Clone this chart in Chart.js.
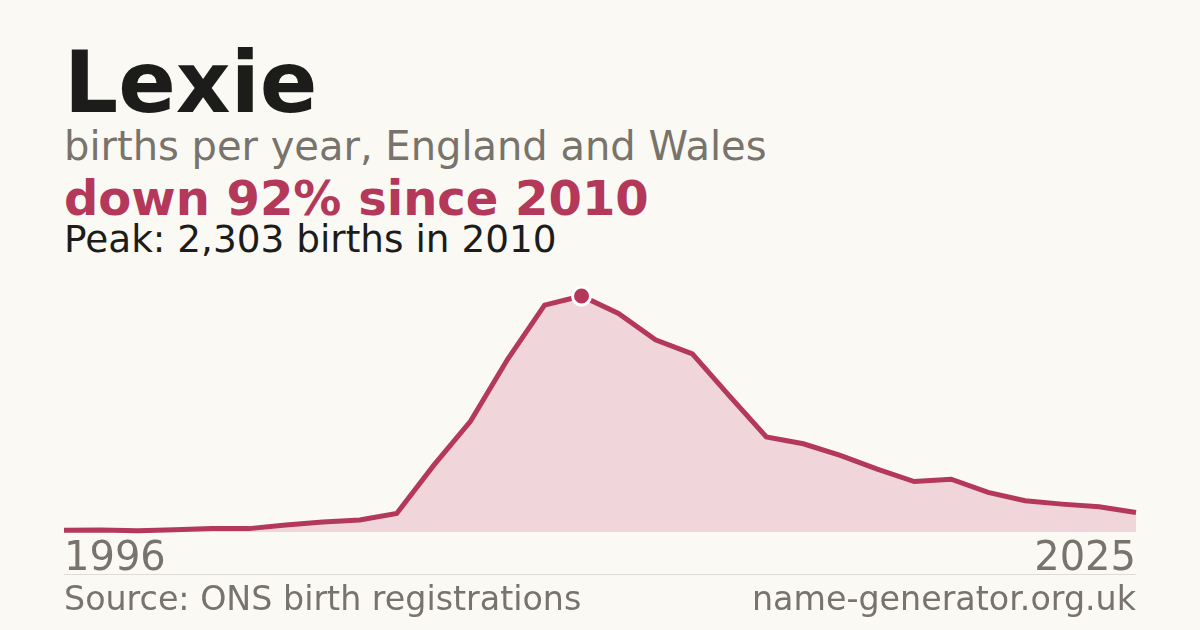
<!DOCTYPE html>
<html>
<head>
<meta charset="utf-8">
<script src="https://cdn.jsdelivr.net/npm/chart.js@4/dist/chart.umd.min.js"></script>
<style>
    html, body { margin: 0; padding: 0; }
    body { width: 1200px; height: 630px; background: #faf9f4; position: relative; overflow: hidden; font-family: "DejaVu Sans", sans-serif; }
    .txt { position: absolute; left: 64px; line-height: 1; white-space: nowrap; }
    #title { top: 40px; font-size: 85px; font-weight: bold; color: #1c1c1a; }
    #subtitle { top: 126px; font-size: 40px; color: #78736b; }
    #change { top: 174px; font-size: 48px; font-weight: bold; color: #b3385a; }
    #peak { top: 221px; font-size: 37.4px; color: #1c1c1a; }
    #rule { position: absolute; left: 64px; width: 1072px; top: 574px; height: 1px; background: #dedbd4; }
    #source { top: 582px; font-size: 33.3px; color: #78736b; }
    #site { top: 582px; left: auto; right: 64px; font-size: 33.3px; color: #78736b; }
    #wrap { position: absolute; left: 0; top: 0; width: 1200px; height: 630px; }
</style>
</head>
<body>
<div class="txt" id="title">Lexie</div>
<div class="txt" id="subtitle">births per year, England and Wales</div>
<div class="txt" id="change">down 92% since 2010</div>
<div class="txt" id="peak">Peak: 2,303 births in 2010</div>
<div id="wrap"><canvas id="births-chart"></canvas></div>
<div id="rule"></div>
<div class="txt" id="source">Source: ONS birth registrations</div>
<div class="txt" id="site">name-generator.org.uk</div>

<script>
const years = [1996, 1997, 1998, 1999, 2000, 2001, 2002, 2003, 2004, 2005,
    2006, 2007, 2008, 2009, 2010, 2011, 2012, 2013, 2014, 2015,
    2016, 2017, 2018, 2019, 2020, 2021, 2022, 2023, 2024, 2025];
const births = [17, 20, 13, 23, 33, 33, 69, 98, 118, 180,
    650, 1082, 1685, 2214, 2303, 2132, 1876, 1739, 1328, 928,
    861, 748, 613, 492, 515, 387, 305, 272, 246, 190];
const axisLabels = ['1996', '2025'];

const lineColor = '#b3385a';
const fillColor = '#f0d5db';

function renderBirthsChart() {
    let peakIndex = births.indexOf(Math.max(...births));

    new Chart(document.getElementById('births-chart'), {
        type: 'line',
        data: {
            labels: years.map(String),
            datasets: [{
                data: births,
                borderColor: lineColor,
                borderWidth: 5,
                backgroundColor: fillColor,
                fill: 'origin',
                tension: 0,
                clip: false,
                pointRadius: ctx => ctx.dataIndex === peakIndex ? 9 : 0,
                pointHoverRadius: 0,
                pointBackgroundColor: lineColor,
                pointBorderColor: '#ffffff',
                pointBorderWidth: 3
            }]
        },
        options: {
            responsive: false,
            animation: false,
            devicePixelRatio: 1,
            events: [],
            layout: { padding: { left: 64, right: 64, top: 296, bottom: 42 } },
            plugins: { legend: { display: false }, tooltip: { enabled: false } },
            scales: {
                x: {
                    grid: { display: false, drawTicks: false },
                    border: { display: false },
                    ticks: {
                        autoSkip: false,
                        maxRotation: 0,
                        align: 'inner',
                        padding: 4,
                        color: '#78736b',
                        font: { family: 'DejaVu Sans', size: 40 },
                        callback: function (value) {
                            let label = this.getLabelForValue(value);
                            return axisLabels.includes(label) ? label : null;
                        }
                    }
                },
                y: {
                    display: false,
                    min: 0,
                    max: Math.max(...births)
                }
            }
        }
    });
}

let canvas = document.getElementById('births-chart');
canvas.width = 1200;
canvas.height = 630;
renderBirthsChart();
</script>
</body>
</html>
